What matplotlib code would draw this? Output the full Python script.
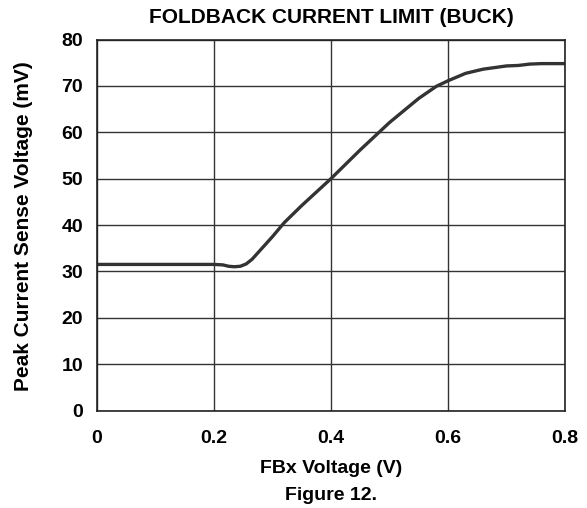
import matplotlib
matplotlib.use("Agg")
import matplotlib.pyplot as plt

fbx_v = [0.0, 0.1, 0.2, 0.215, 0.225, 0.235, 0.245, 0.255, 0.265, 0.275, 0.3, 0.32,
         0.35, 0.4, 0.45, 0.5, 0.55, 0.58, 0.6, 0.63, 0.66, 0.7, 0.72, 0.74, 0.76, 0.8]
sense_mv = [31.5, 31.5, 31.5, 31.4, 31.1, 31.0, 31.1, 31.6, 32.6, 34.0, 37.5, 40.5,
            44.2, 50.0, 56.2, 62.1, 67.3, 69.9, 71.1, 72.7, 73.6, 74.3, 74.4, 74.7, 74.8, 74.8]
x_ticks = [0, 0.2, 0.4, 0.6, 0.8]
x_labels = ["0", "0.2", "0.4", "0.6", "0.8"]
y_ticks = [0, 10, 20, 30, 40, 50, 60, 70, 80]

plt.rcParams['font.family'] = ['Liberation Sans', 'DejaVu Sans']
plt.rcParams['font.weight'] = 'bold'

W, H = 587, 508
fig = plt.figure(figsize=(W/100, H/100), dpi=100)
ax = fig.add_axes([97/W, 1-410.5/H, 468/W, 371/H])
ax.plot(fbx_v, sense_mv, color='#333333', lw=2.4, solid_capstyle='butt')
ax.set_xlim(0, 0.8)
ax.set_ylim(0, 80)
ax.set_xticks(x_ticks)
ax.set_xticklabels(x_labels)
ax.set_yticks(y_ticks)
ax.grid(True, color='#333333', lw=1.0)
ax.tick_params(length=0, labelsize=14)
ax.tick_params(axis='x', pad=14)
ax.tick_params(axis='y', pad=10)
for lab in ax.get_xticklabels() + ax.get_yticklabels():
    lab.set_fontweight('bold')
for s in ax.spines.values():
    s.set_color('#222222')
    s.set_linewidth(1.2)
fig.text(331/W, 1-23/H, "FOLDBACK CURRENT LIMIT (BUCK)", ha='center', va='baseline',
         fontsize=15, fontweight='bold')
fig.text(331/W, 1-473/H, "FBx Voltage (V)", ha='center', va='baseline',
         fontsize=14, fontweight='bold')
fig.text(331/W, 1-500/H, "Figure 12.", ha='center', va='baseline',
         fontsize=14, fontweight='bold')
fig.text(24/W, 1-226/H, "Peak Current Sense Voltage (mV)", ha='center', va='center',
         rotation=90, fontsize=15, fontweight='bold')
fig.savefig("out.png", dpi=100)
